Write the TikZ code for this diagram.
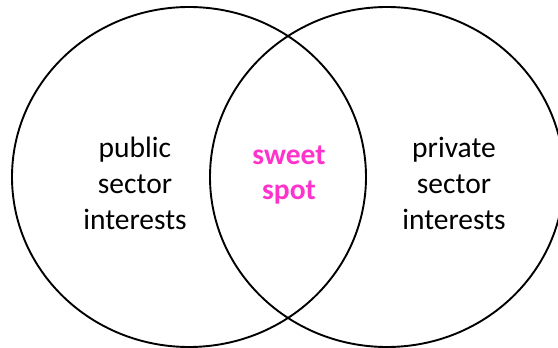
\documentclass[tikz,border=0pt]{standalone}
\usepackage{fontspec}
\setmainfont{Carlito}
\usetikzlibrary{shapes.geometric}
\definecolor{sweetpink}{RGB}{255,51,204}

\begin{document}
\begin{tikzpicture}[x=1pt,y=-1pt,
  sector/.style={ellipse,draw,line width=1.9pt,minimum width=354pt,minimum height=340pt,inner sep=0pt},
  label/.style={align=center,font=\fontsize{29.5}{36}\selectfont}]
\useasboundingbox (0,0) rectangle (558,348);
%interests
\node[sector] (publiccircle) at (189,177) {};
\node[sector] (privatecircle) at (387,177) {};
%texts
\node[label] (public) at (135,183) {public\\sector\\interests};
\node[label] (private) at (454,183) {private\\sector\\interests};
\node[label,font=\fontsize{29.5}{35}\selectfont\bfseries,text=sweetpink] (sweet) at (289,175) {sweet\\spot};
\end{tikzpicture}
\end{document}
